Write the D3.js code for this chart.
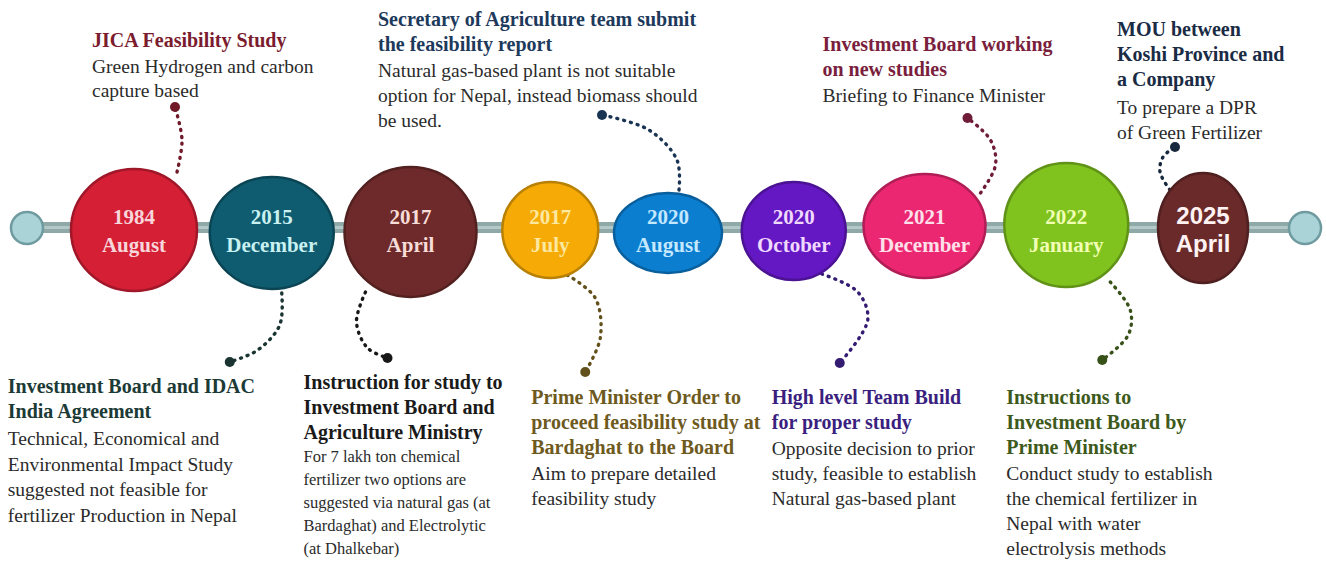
<!DOCTYPE html>
<html>
<head>
<meta charset="utf-8">
<script src="https://cdn.jsdelivr.net/npm/d3@7"></script>
<style>
  body { margin: 0; background: #fff; }
  svg { display: block; }
</style>
</head>
<body>
<script>
'use strict';

// ---- data ----
const years  = ["1984", "2015", "2017", "2017", "2020", "2020", "2021", "2022", "2025"];
const months = ["August", "December", "April", "July", "August", "October", "December", "January", "April"];

// one event per milestone (same order)
const eventTitles = [
  ["JICA Feasibility Study"],
  ["Investment Board and IDAC", "India Agreement"],
  ["Instruction for study to", "Investment Board and", "Agriculture Ministry"],
  ["Prime Minister Order to", "proceed feasibility study at", "Bardaghat to the Board"],
  ["Secretary of Agriculture team submit", "the feasibility report"],
  ["High level Team Build", "for proper study"],
  ["Investment Board working", "on new studies"],
  ["Instructions to", "Investment Board by", "Prime Minister"],
  ["MOU between", "Koshi Province and", "a Company"]
];
const eventTexts = [
  ["Green Hydrogen and carbon", "capture based"],
  ["Technical, Economical and", "Environmental Impact Study", "suggested not feasible for", "fertilizer Production in Nepal"],
  ["For 7 lakh ton chemical", "fertilizer two options are", "suggested via natural gas (at", "Bardaghat) and Electrolytic", "(at Dhalkebar)"],
  ["Aim to prepare detailed", "feasibility study"],
  ["Natural gas-based plant is not suitable", "option for Nepal, instead biomass should", "be used."],
  ["Opposite decision to prior", "study, feasible to establish", "Natural gas-based plant"],
  ["Briefing to Finance Minister"],
  ["Conduct study to establish", "the chemical fertilizer in", "Nepal with water", "electrolysis methods"],
  ["To prepare a DPR", "of Green Fertilizer"]
];

// ---- styles / layout ----
const W = 1326, H = 562;
const barY = 228;
const nodeFill  = ["#d41f35", "#0f5c70", "#6e2a2a", "#f5aa05", "#0c7ed0", "#6418c4", "#ec2771", "#80c21e", "#6a2a2a"];
const nodeInk   = ["#f8d6da", "#c9f1f1", "#f8dcd8", "#fde8a0", "#c4e8ff", "#f0d8ff", "#fde0ea", "#f0ffb4", "#fff2f2"];
const nodeRx    = [63, 62, 66, 48, 54, 52, 61, 62, 45];
const nodeRy    = [61, 56, 65, 48, 40, 49, 52, 62, 55];
const nodeDy    = [2, 5, 4, 2, 5, 3, -2, -3, 0];
const nodeNudge = [1, 5, 10, 16, 0, -8, -11, -3, 0];
const titleInk  = ["#7b1c2e", "#1c3a36", "#1a1a1a", "#6e5a1e", "#1d3a5c", "#3b1f80", "#7a1f3d", "#3d5a1c", "#1a2b45"];
// callout curves, offsets from node centre
const callout = [
  [[43, -58], [48, -90], [41, -123]],
  [[10, 60], [8, 92], [-14, 117], [-42, 129]],
  [[-45, 60], [-54, 90], [-43, 116], [-23, 126]],
  [[17, 45], [45, 68], [50, 108], [35, 142]],
  [[11, -43], [9, -73], [-19, -103], [-66, -118]],
  [[28, 43], [64, 61], [74, 89], [46, 132]],
  [[56, -33], [71, -61], [66, -86], [43, -108]],
  [[44, 57], [64, 85], [62, 110], [36, 135]],
  [[-33, -38], [-43, -56], [-40, -71], [-28, -81]]
];
// label block: x offset from node centre, first baseline, body gap, body size
const labelDx   = [-42, -264, -107, -19, -290, -22, -102, -60, -86];
const labelTop  = [47, 393, 389, 404, 26, 404, 51, 404, 36];
const bodyGap   = [26, 27, 23, 26, 26, 26, 26, 26, 28];
const bodySize  = [19.5, 19.5, 16.5, 19.5, 19.5, 19.5, 19.5, 19.5, 19.5];
const bodyLead  = [24, 25.5, 23, 25, 25, 25, 25, 25, 25];
const titleLead = 25;

const serif = "'Liberation Serif', 'Times New Roman', serif";
const sans  = "'Liberation Sans', Arial, sans-serif";

const svg = d3.select("body").append("svg")
  .attr("width", W)
  .attr("height", H);

const x = d3.scalePoint()
  .domain(d3.range(years.length))
  .range([133, 1203]);

const cx = i => x(i) + nodeNudge[i];
const cy = i => barY + nodeDy[i];

// ---- bar and end knobs ----
svg.append("rect")
  .attr("x", 27).attr("y", barY - 6)
  .attr("width", 1305 - 27).attr("height", 11)
  .attr("fill", "#8ea9a8");
svg.append("rect")
  .attr("x", 27).attr("y", barY - 2)
  .attr("width", 1305 - 27).attr("height", 3)
  .attr("fill", "#b3c9c8");

svg.selectAll("circle.knob")
  .data([27, 1305])
  .enter().append("circle")
  .attr("class", "knob")
  .attr("cx", d => d).attr("cy", barY)
  .attr("r", 16)
  .attr("fill", "#a9d3d7")
  .attr("stroke", "#6f9ba0")
  .attr("stroke-width", 2.5);

// ---- callouts ----
const line = d3.line().curve(d3.curveCatmullRom.alpha(0.5));

const calls = svg.selectAll("g.call")
  .data(d3.range(years.length))
  .enter().append("g")
  .attr("class", "call");

calls.append("path")
  .attr("d", i => line(callout[i].map(p => [cx(i) + p[0], cy(i) + p[1]])))
  .attr("fill", "none")
  .attr("stroke", i => d3.color(titleInk[i]).darker(0.3))
  .attr("stroke-width", 3.4)
  .attr("stroke-linecap", "round")
  .attr("stroke-dasharray", "1,6");

calls.append("circle")
  .attr("cx", i => cx(i) + callout[i][callout[i].length - 1][0])
  .attr("cy", i => cy(i) + callout[i][callout[i].length - 1][1])
  .attr("r", 5)
  .attr("fill", i => d3.color(titleInk[i]).darker(0.3));

// ---- milestone nodes ----
const nodes = svg.selectAll("g.node")
  .data(d3.range(years.length))
  .enter().append("g")
  .attr("class", "node")
  .attr("transform", i => `translate(${cx(i)},${cy(i)})`);

nodes.append("ellipse")
  .attr("rx", i => nodeRx[i])
  .attr("ry", i => nodeRy[i])
  .attr("fill", i => nodeFill[i])
  .attr("stroke", i => d3.color(nodeFill[i]).darker(0.8))
  .attr("stroke-width", 2.5);

nodes.append("text")
  .attr("text-anchor", "middle")
  .attr("y", i => barY - cy(i) - 4)
  .attr("font-family", i => i === 8 ? sans : serif)
  .attr("font-weight", "bold")
  .attr("font-size", i => i === 8 ? 24 : 21)
  .attr("fill", i => nodeInk[i])
  .text(i => years[i]);

nodes.append("text")
  .attr("text-anchor", "middle")
  .attr("y", i => barY - cy(i) + 24)
  .attr("font-family", i => i === 8 ? sans : serif)
  .attr("font-weight", "bold")
  .attr("font-size", i => i === 8 ? 24 : 21)
  .attr("fill", i => nodeInk[i])
  .text(i => months[i]);

// ---- event labels ----
const labels = svg.selectAll("g.label")
  .data(d3.range(years.length))
  .enter().append("g")
  .attr("class", "label")
  .attr("transform", i => `translate(${cx(i) + labelDx[i]},${labelTop[i]})`);

labels.each(function(i) {
  const g = d3.select(this);
  const t = eventTitles[i];
  g.selectAll("text.title")
    .data(t)
    .enter().append("text")
    .attr("class", "title")
    .attr("y", (d, k) => k * titleLead)
    .attr("font-family", serif)
    .attr("font-weight", "bold")
    .attr("font-size", 20)
    .attr("fill", titleInk[i])
    .text(d => d);

  const top = (t.length - 1) * titleLead + bodyGap[i];
  g.selectAll("text.body")
    .data(eventTexts[i])
    .enter().append("text")
    .attr("class", "body")
    .attr("y", (d, k) => top + k * bodyLead[i])
    .attr("font-family", serif)
    .attr("font-size", bodySize[i])
    .attr("fill", "#2b2b2b")
    .text(d => d);
});
</script>
</body>
</html>
